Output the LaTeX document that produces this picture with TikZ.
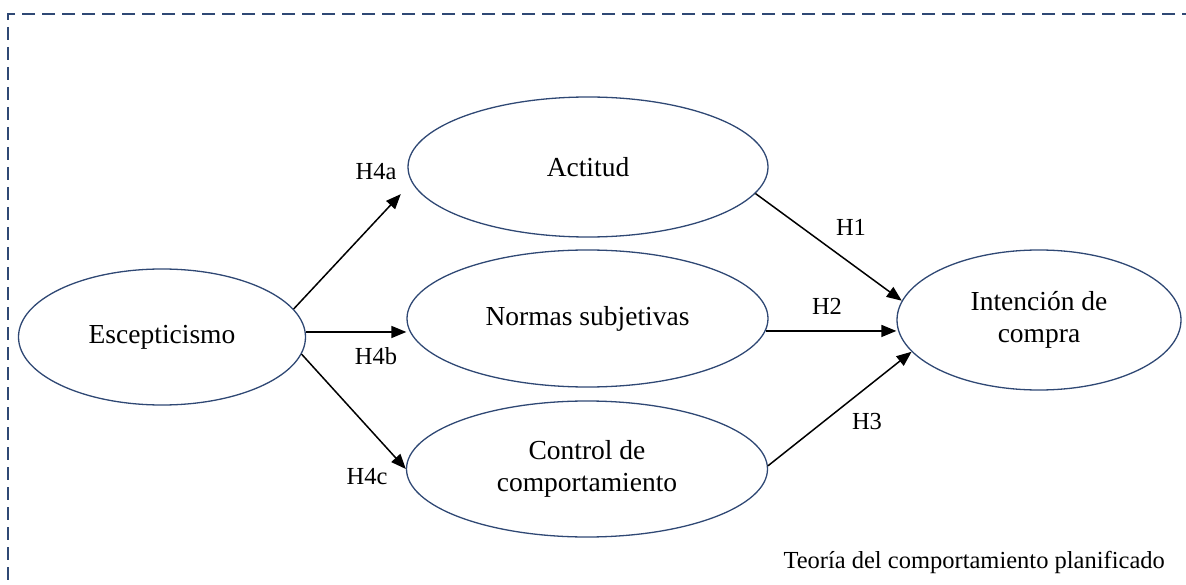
\documentclass[tikz,border=0pt]{standalone}
\usepackage{fontspec}
\setmainfont{Liberation Serif}
\usetikzlibrary{shapes.geometric,arrows.meta}
\definecolor{borde}{RGB}{47,72,116}
\tikzset{
  constructo/.style={draw=borde,line width=1.3pt,ellipse,inner sep=0pt,align=center,
    font=\fontsize{27.5}{32}\selectfont},
  hipotesis/.style={inner sep=0pt,font=\fontsize{24.5}{29}\selectfont},
  flecha/.style={line width=1.5pt,-{Triangle[length=15pt,width=12pt]}},
  marco/.style={draw=borde,line width=2pt,dash pattern=on 13pt off 7pt}
}
\begin{document}
\begin{tikzpicture}[x=1pt,y=-1pt]
\useasboundingbox (0,0) rectangle (1186,585);
\draw[marco] (1195,14) -- (8,14) -- (8,595);
\node[constructo,minimum width=287pt,minimum height=136pt] (esc) at (162,337) {Escepticismo};
\node[constructo,minimum width=360pt,minimum height=140pt] (act) at (588,167) {Actitud};
\node[constructo,minimum width=361pt,minimum height=137pt] (nor) at (587.5,318.5) {Normas subjetivas};
\node[constructo,minimum width=361pt,minimum height=136pt] (con) at (587,469) {Control de\\comportamiento};
\node[constructo,minimum width=284pt,minimum height=140pt] (int) at (1039,320) {Intención de\\compra};
\draw[flecha,shorten >=16pt] (esc.12) -- (act.185);
\draw[flecha] (esc.2) -- (esc.2 -| nor.west);
\draw[flecha] (esc.-7) -- (con.180);
\draw[flecha] (act.-9) -- (int.172);
\draw[flecha] (nor.-4) -- (nor.-4 -| int.west);
\draw[flecha] (con.1) -- (int.194);
\node[hipotesis] (h4a) at (376,172) {H4a};
\node[hipotesis] (h4b) at (376,356) {H4b};
\node[hipotesis] (h4c) at (367,477) {H4c};
\node[hipotesis] (h1) at (851,227) {H1};
\node[hipotesis] (h2) at (827,306) {H2};
\node[hipotesis] (h3) at (867,422) {H3};
\node[hipotesis,anchor=east] (tcp) at (1165,562) {Teoría del comportamiento planificado};
\end{tikzpicture}
\end{document}
